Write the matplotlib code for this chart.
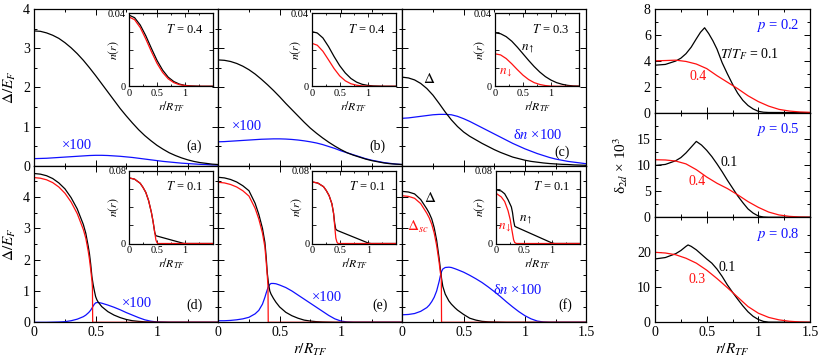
import numpy as np
import matplotlib
matplotlib.use('Agg')
import matplotlib.pyplot as plt
from matplotlib.ticker import MultipleLocator

plt.rcParams['font.family'] = ['Liberation Serif', 'DejaVu Serif']
plt.rcParams['mathtext.fontset'] = 'stix'
plt.rcParams['font.size'] = 9
plt.rcParams['axes.linewidth'] = 0.9

BLUE = '#1010ff'
RED = '#ff1010'

# ---------------- data ----------------
r_top = [0, .05, .1, .15, .2, .25, .3, .35, .4, .45, .5, .55, .6, .65, .7, .75,
         .8, .85, .9, .95, 1.0, 1.05, 1.1, 1.15, 1.2, 1.25, 1.3, 1.35, 1.4, 1.45, 1.5]

a_delta = [3.44, 3.43, 3.39, 3.33, 3.25, 3.14, 3.01, 2.86, 2.69, 2.50, 2.30, 2.09, 1.88, 1.67,
           1.46, 1.27, 1.09, 0.92, 0.77, 0.64, 0.52, 0.42, 0.33, 0.26, 0.20, 0.15, 0.11, 0.08,
           0.06, 0.04, 0.03]
a_dn = [0.18, 0.185, 0.19, 0.20, 0.21, 0.22, 0.23, 0.24, 0.25, 0.26, 0.265, 0.265, 0.26, 0.25,
        0.24, 0.225, 0.21, 0.19, 0.17, 0.15, 0.13, 0.11, 0.095, 0.08, 0.065, 0.055, 0.045,
        0.035, 0.03, 0.02, 0.015]

b_delta = [2.70, 2.69, 2.66, 2.61, 2.54, 2.45, 2.34, 2.21, 2.07, 1.92, 1.76, 1.59, 1.43, 1.27,
           1.11, 0.96, 0.83, 0.71, 0.60, 0.50, 0.41, 0.33, 0.27, 0.22, 0.17, 0.13, 0.10, 0.07,
           0.05, 0.04, 0.03]
b_dn = [0.61, 0.615, 0.625, 0.635, 0.645, 0.655, 0.665, 0.675, 0.68, 0.685, 0.685, 0.68, 0.67,
        0.655, 0.635, 0.61, 0.58, 0.54, 0.49, 0.44, 0.38, 0.33, 0.28, 0.23, 0.18, 0.14, 0.11,
        0.08, 0.06, 0.04, 0.03]

c_delta = [2.26, 2.24, 2.19, 2.10, 1.97, 1.80, 1.59, 1.37, 1.17, 1.00, 0.86, 0.75, 0.66, 0.57,
           0.49, 0.41, 0.34, 0.28, 0.22, 0.18, 0.14, 0.11, 0.09, 0.07, 0.055, 0.045, 0.035,
           0.03, 0.02, 0.015, 0.01]
c_dn = [1.21, 1.22, 1.24, 1.26, 1.28, 1.30, 1.31, 1.31, 1.30, 1.26, 1.20, 1.13, 1.05, 0.97,
        0.89, 0.81, 0.73, 0.65, 0.57, 0.50, 0.43, 0.37, 0.31, 0.26, 0.21, 0.17, 0.14, 0.11,
        0.09, 0.07, 0.05]

r_in = [0, .1, .2, .3, .4, .5, .6, .7, .8, .9, 1.0, 1.1, 1.2, 1.3, 1.4, 1.5]
a_nup = [0.039, 0.0376, 0.0336, 0.0277, 0.0208, 0.0142, 0.0089, 0.005, 0.0026, 0.0012,
         0.0005, 0.0002, 0.0001, 0, 0, 0]
a_ndn = [0.038, 0.0365, 0.0322, 0.0259, 0.019, 0.0126, 0.0076, 0.0041, 0.002, 0.0009,
         0.0004, 0.0001, 0, 0, 0, 0]
b_nup = [0.030, 0.0292, 0.0265, 0.0218, 0.0163, 0.0113, 0.0073, 0.0043, 0.0023, 0.0011,
         0.0005, 0.0002, 0.0001, 0, 0, 0]
b_ndn = [0.0236, 0.0225, 0.0192, 0.0145, 0.0097, 0.0057, 0.003, 0.0014, 0.0006, 0.0002,
         0.0001, 0, 0, 0, 0, 0]
c_nup = [0.0293, 0.0288, 0.0272, 0.0247, 0.0214, 0.0178, 0.0142, 0.0108, 0.0078, 0.0053,
         0.0034, 0.002, 0.0011, 0.0005, 0.0002, 0.0001]
c_ndn = [0.0178, 0.0172, 0.0152, 0.0123, 0.0091, 0.0061, 0.0037, 0.002, 0.001, 0.0004,
         0.0001, 0, 0, 0, 0, 0]

# panel (d), T = 0.1
d_r = [0, .05, .1, .15, .2, .25, .3, .35, .4, .42, .44, .45, .46, .47, .48, .49, .5, .51, .52,
       .55, .6, .65, .7, .75, .8, .85, .9, .95, 1.0, 1.1, 1.5]
d_delta = [4.75, 4.73, 4.68, 4.59, 4.45, 4.26, 3.98, 3.62, 3.12, 2.84, 2.42, 2.18, 1.85,
           1.45, 1.2, 1.0, 0.82, 0.72, 0.65, 0.5, 0.34, 0.23, 0.15, 0.09, 0.05, 0.03, 0.015,
           0.008, 0.004, 0, 0]
d_dn = [0, 0, 0, 0.005, 0.01, 0.02, 0.05, 0.1, 0.18, 0.23, 0.3, 0.34, 0.39, 0.45, 0.52, 0.58,
        0.62, 0.63, 0.635, 0.61, 0.55, 0.48, 0.4, 0.31, 0.23, 0.15, 0.08, 0.035, 0.01, 0, 0]
d_r_sc = [0, .05, .1, .15, .2, .25, .3, .35, .4, .42, .44, .45, .46, .47, .474, .476, 1.5]
d_sc = [4.62, 4.60, 4.55, 4.46, 4.32, 4.12, 3.84, 3.47, 2.96, 2.68, 2.26, 2.0, 1.68, 1.32,
        1.1, 0, 0]

# panel (e)
e_r = [0, .05, .1, .15, .2, .25, .3, .33, .36, .38, .39, .4, .41, .42, .43, .45, .47, .5, .55,
       .6, .65, .7, .75, .8, .85, .9, .95, 1.0, 1.05, 1.1, 1.5]
e_delta = [4.63, 4.61, 4.56, 4.48, 4.36, 4.2, 3.8, 3.45, 3.0, 2.55, 2.1, 1.55, 1.22, 1.0,
           0.9, 0.76, 0.64, 0.49, 0.32, 0.21, 0.13, 0.07, 0.04, 0.02, 0.01, 0.005, 0, 0, 0,
           0, 0]
e_dn = [0.05, 0.05, 0.06, 0.08, 0.11, 0.16, 0.27, 0.38, 0.58, 0.8, 0.93, 1.05, 1.15, 1.21,
        1.24, 1.24, 1.23, 1.19, 1.11, 1.0, 0.87, 0.74, 0.61, 0.48, 0.35, 0.22, 0.11, 0.04,
        0.01, 0, 0]
e_r_sc = [0, .05, .1, .15, .2, .25, .3, .33, .36, .38, .39, .4, .405, .407, 1.5]
e_sc = [4.47, 4.45, 4.40, 4.32, 4.2, 4.03, 3.64, 3.3, 2.85, 2.4, 1.95, 1.45, 1.15, 0, 0]

# panel (f)
f_r = [0, .05, .1, .15, .2, .22, .24, .26, .28, .3, .31, .32, .33, .35, .38, .4, .43, .45, .5,
       .55, .6, .65, .7, .75, .8, .85, .9, .95, 1.0, 1.05, 1.1, 1.15, 1.2, 1.5]
f_delta = [4.18, 4.16, 4.1, 3.92, 3.62, 3.48, 3.3, 3.02, 2.62, 2.05, 1.72, 1.4, 1.15, 0.9,
           0.68, 0.58, 0.46, 0.39, 0.25, 0.13, 0.07, 0.03, 0.015, 0.008, 0.004, 0, 0, 0, 0,
           0, 0, 0, 0, 0]
f_dn = [0.24, 0.25, 0.28, 0.35, 0.47, 0.55, 0.66, 0.8, 1.0, 1.3, 1.48, 1.62, 1.7, 1.75, 1.76,
        1.75, 1.71, 1.68, 1.6, 1.5, 1.39, 1.27, 1.13, 0.98, 0.82, 0.65, 0.49, 0.34, 0.21, 0.11,
        0.04, 0.01, 0, 0]
f_r_sc = [0, .05, .1, .15, .2, .22, .24, .26, .28, .3, .31, .318, .32, 1.5]
f_sc = [4.04, 4.02, 3.96, 3.79, 3.48, 3.33, 3.13, 2.85, 2.45, 1.92, 1.6, 1.4, 0, 0]

# bottom-row insets
d_in_r = [0, .1, .2, .25, .3, .35, .4, .43, .46, .48, .97, 1.0, 1.5]
d_in_up = [0.0719, 0.0705, 0.066, 0.0615, 0.056, 0.047, 0.034, 0.024, 0.012, 0.0085,
           0.0002, 0, 0]
d_in_r_dn = [0, .1, .2, .25, .3, .35, .4, .43, .46, .48, .5, .52, 1.5]
d_in_dn = [0.0719, 0.0705, 0.066, 0.0615, 0.056, 0.047, 0.034, 0.024, 0.012, 0.004, 0.0008,
           0, 0]

e_in_r = [0, .1, .2, .25, .3, .35, .38, .4, .42, .45, 1.0, 1.05, 1.5]
e_in_up = [0.0675, 0.0662, 0.0623, 0.058, 0.0525, 0.0435, 0.033, 0.022, 0.0155, 0.0142,
           0.0005, 0, 0]
e_in_r_dn = [0, .1, .2, .25, .3, .35, .38, .4, .42, .44, .46, 1.5]
e_in_dn = [0.0675, 0.0662, 0.0623, 0.058, 0.0525, 0.0435, 0.033, 0.019, 0.006, 0.0015, 0, 0]

f_in_r = [0, .1, .16, .22, .28, .3, .32, .34, .36, 1.0, 1.05, 1.5]
f_in_up = [0.059, 0.0575, 0.0545, 0.048, 0.04, 0.034, 0.025, 0.019, 0.0182, 0.0007, 0, 0]
f_in_r_dn = [0, .1, .16, .22, .26, .28, .3, .32, .34, .37, 1.5]
f_in_dn = [0.0553, 0.051, 0.046, 0.036, 0.026, 0.018, 0.011, 0.004, 0.001, 0, 0]

# right column: delta_2d x 10^3
p02_r = [0, .1, .2, .25, .3, .35, .4, .44, .48, .52, .56, .6, .65, .7, .75, .8, .85, .9, .95,
         1.0, 1.05, 1.1, 1.5]
p02_T01 = [3.66, 3.72, 3.98, 4.2, 4.55, 5.05, 5.7, 6.2, 6.55, 6.1, 5.55, 4.9, 3.85, 3.0, 2.2,
           1.5, 0.95, 0.55, 0.28, 0.1, 0.03, 0.01, 0]
p02_T04 = [4.0, 4.02, 4.05, 3.95, 3.75, 3.4, 2.85, 2.35, 1.85, 1.3, 0.85, 0.5, 0.25, 0.12,
           0.05, 0.02]

p05_r = [0, .1, .2, .25, .3, .35, .4, .45, .5, .55, .6, .65, .7, .75, .8, .85, .9, .95, 1.0,
         1.05, 1.1, 1.5]
p05_T01 = [9.9, 10.1, 10.8, 11.4, 12.3, 13.4, 14.5, 13.8, 12.8, 11.6, 10.2, 8.7, 7.1, 5.6,
           4.1, 2.8, 1.6, 0.8, 0.25, 0.05, 0, 0]
p05_T04 = [11.0, 10.95, 10.75, 10.2, 9.1, 7.7, 6.5, 5.5, 4.3, 3.0, 1.9, 1.0, 0.45, 0.18,
           0.06, 0.02]

p08_r = [0, .1, .2, .25, .3, .32, .35, .4, .45, .5, .55, .6, .65, .7, .75, .8, .85, .9, .95,
         1.0, 1.05, 1.1, 1.5]
p08_T01 = [18.1, 18.5, 19.6, 20.5, 21.7, 22.1, 21.7, 20.7, 19.4, 18.1, 16.9, 15.2, 13.1, 10.7,
           8.6, 6.6, 4.7, 3.0, 1.7, 0.8, 0.25, 0.05, 0]
p08_T03 = [20.0, 19.8, 19.3, 18.3, 16.9, 14.9, 12.5, 9.9, 7.2, 4.5, 2.6, 1.4, 0.7, 0.3, 0.1,
           0.03]

# ---------------- figure ----------------
W, H = 821, 360
fig = plt.figure(figsize=(W / 100, H / 100), dpi=100)


def box(x0, y0, x1, y1):
    return [x0 / W, 1 - y1 / H, (x1 - x0) / W, (y1 - y0) / H]


def style(ax, ylim, ymaj, ymin, xlab=None, ylab=None):
    ax.xaxis.set_major_locator(MultipleLocator(0.5))
    ax.xaxis.set_minor_locator(MultipleLocator(0.25))
    ax.yaxis.set_major_locator(MultipleLocator(ymaj))
    ax.yaxis.set_minor_locator(MultipleLocator(ymin))
    ax.tick_params(which='both', direction='in', top=True, right=True, width=0.7,
                   labelsize=10, pad=3)
    ax.tick_params(which='major', length=4)
    ax.tick_params(which='minor', length=2)
    if xlab is None:
        ax.set_xticklabels([])
    else:
        ax.set_xticks([0, 0.5, 1, 1.5])
        ax.set_xticklabels(xlab)
    if ylab is None:
        ax.set_yticklabels([])
    else:
        ax.set_yticks(ylab[0])
        ax.set_yticklabels(ylab[1])
    ax.set_xlim(0, 1.5)
    ax.set_ylim(*ylim)


def inset(px0, py0, r_up, n_up, r_dn, n_dn, label, ymax):
    ax = fig.add_axes(box(px0, py0, px0 + 84, py0 + 73))
    ax.plot(r_up, n_up, color='k', lw=0.9)
    ax.plot(r_dn, n_dn, color=RED, lw=0.9)
    ax.set_xlim(0, 1.5)
    ax.set_ylim(0, ymax)
    ax.set_xticks([0, 0.5, 1])
    ax.set_xticklabels(['0', '0.5', '1'])
    ax.xaxis.set_minor_locator(MultipleLocator(0.25))
    ax.set_yticks(np.linspace(0, ymax, 5))
    ax.set_yticklabels(['0', '', '', '', '%g' % ymax])
    ax.tick_params(which='both', direction='in', top=True, right=True, width=0.6,
                   labelsize=7.5, pad=2)
    ax.tick_params(which='major', length=3)
    ax.tick_params(which='minor', length=1.5)
    ax.set_xlabel(r'$r/R_{TF}$', fontsize=8.5, labelpad=1)
    ax.set_ylabel(r'$n(r)$', fontsize=8.5)
    ax.yaxis.set_label_coords(-0.1, 0.5)
    ax.text(0.66, 0.78, label, transform=ax.transAxes, fontsize=9, ha='center',
            va='center')
    return ax


cols = [34.3, 218.3, 402.3]
pw = 184
top_row = (9, 165.7)
bot_row = (165.7, 322.3)

# top row
top_data = [(a_delta, a_dn), (b_delta, b_dn), (c_delta, c_dn)]
for i, (dl, dn) in enumerate(top_data):
    ax = fig.add_axes(box(cols[i], top_row[0], cols[i] + pw, top_row[1]))
    ax.plot(r_top, dn, color=BLUE, lw=0.9)
    ax.plot(r_top, dl, color='k', lw=0.9)
    ylab = ([0, 1, 2, 3, 4], ['0', '1', '2', '3', '4']) if i == 0 else None
    style(ax, (0, 4), 1, 0.5, ylab=ylab)
    if i == 0:
        ax.set_ylabel(r'$\Delta/E_F$', fontsize=11, labelpad=4)
    ly = 0.085 if i == 2 else 0.126
    ax.text(0.867, ly, '(%s)' % 'abc'[i], transform=ax.transAxes, fontsize=10,
            ha='center', va='center')
    if i == 0:
        ax.text(0.232, 0.132, '×100', color=BLUE, transform=ax.transAxes, fontsize=10.5,
                ha='center', va='center')
    elif i == 1:
        ax.text(0.156, 0.247, '×100', color=BLUE, transform=ax.transAxes, fontsize=10.5,
                ha='center', va='center')
    else:
        ax.text(0.147, 0.553, r'$\Delta$', transform=ax.transAxes, fontsize=11,
                ha='center', va='center')
        ax.text(0.735, 0.195, r'δ$n$ ×100', color=BLUE, transform=ax.transAxes,
                fontsize=10.5, ha='center', va='center')

inset(cols[0] + 94.7, 13.3, r_in, a_nup, r_in, a_ndn, r'$T$ = 0.4', 0.04)
inset(cols[1] + 93.4, 13.3, r_in, b_nup, r_in, b_ndn, r'$T$ = 0.4', 0.04)
ic = inset(cols[2] + 92.7, 13.3, r_in, c_nup, r_in, c_ndn, r'$T$ = 0.3', 0.04)
ic.text(0.39, 0.5, r'$n_\uparrow$', transform=ic.transAxes, fontsize=9.5, ha='center',
        va='center')
ic.text(0.13, 0.18, r'$n_\downarrow$', color=RED, transform=ic.transAxes, fontsize=9.5,
        ha='center', va='center')

# bottom row
bot_data = [(d_r, d_delta, d_dn, d_r_sc, d_sc), (e_r, e_delta, e_dn, e_r_sc, e_sc),
            (f_r, f_delta, f_dn, f_r_sc, f_sc)]
for i, (rr, dl, dn, rs, sc) in enumerate(bot_data):
    ax = fig.add_axes(box(cols[i], bot_row[0], cols[i] + pw, bot_row[1]))
    ax.plot(rr, dn, color=BLUE, lw=0.9)
    ax.plot(rr, dl, color='k', lw=0.9)
    ax.plot(rs, sc, color=RED, lw=0.9)
    ylab = ([0, 1, 2, 3, 4], ['0', '1', '2', '3', '4']) if i == 0 else None
    xlab = ['0', '0.5', '1', '1.5'] if i == 2 else ['0', '0.5', '1', '']
    style(ax, (0, 5), 1, 0.5, xlab=xlab, ylab=ylab)
    if i == 0:
        ax.set_ylabel(r'$\Delta/E_F$', fontsize=11, labelpad=4)
    lx = [0.873, 0.88, 0.886][i]
    ax.text(lx, 0.11, '(%s)' % 'def'[i], transform=ax.transAxes, fontsize=10,
            ha='center', va='center')
    if i == 0:
        ax.text(0.558, 0.123, '×100', color=BLUE, transform=ax.transAxes, fontsize=10.5,
                ha='center', va='center')
    elif i == 1:
        ax.text(0.59, 0.16, '×100', color=BLUE, transform=ax.transAxes, fontsize=10.5,
                ha='center', va='center')
    else:
        ax.text(0.152, 0.794, r'$\Delta$', transform=ax.transAxes, fontsize=11,
                ha='center', va='center')
        ax.text(0.087, 0.608, r'$\Delta_{sc}$', color=RED, transform=ax.transAxes,
                fontsize=11, ha='center', va='center')
        ax.text(0.625, 0.206, r'δ$n$ ×100', color=BLUE, transform=ax.transAxes,
                fontsize=10.5, ha='center', va='center')

inset(cols[0] + 94.7, 170.5, d_in_r, d_in_up, d_in_r_dn, d_in_dn, r'$T$ = 0.1', 0.08)
inset(cols[1] + 94.0, 170.5, e_in_r, e_in_up, e_in_r_dn, e_in_dn, r'$T$ = 0.1', 0.08)
iff = inset(cols[2] + 93.4, 170.5, f_in_r, f_in_up, f_in_r_dn, f_in_dn,
            r'$T$ = 0.1', 0.08)
iff.text(0.36, 0.32, r'$n_\uparrow$', transform=iff.transAxes, fontsize=9.5, ha='center',
         va='center')
iff.text(0.11, 0.21, r'$n_\downarrow$', color=RED, transform=iff.transAxes, fontsize=9.5,
         ha='center', va='center')

fig.text(310 / W, 1 - 350 / H, r'$r/R_{TF}$', fontsize=11, ha='center', va='center')

# right column
rx0, rx1 = 655, 810
rrows = [(9, 112.6), (112.6, 217.3), (217.3, 322.3)]
right_data = [
    (p02_r, p02_T01, p02_T04, (0, 8), 2, 1, [0, 2, 4, 6, 8], '0.2'),
    (p05_r, p05_T01, p05_T04, (0, 20), 5, 2.5, [0, 5, 10, 15], '0.5'),
    (p08_r, p08_T01, p08_T03, (0, 30), 10, 5, [0, 10, 20], '0.8'),
]
red_lab = ['0.4', '0.4', '0.3']
blk_lab = [r'$T/T_F$ = 0.1', '0.1', '0.1']
blk_pos = [(0.61, 0.56), (0.48, 0.52), (0.465, 0.52)]
red_pos = [(0.28, 0.35), (0.27, 0.34), (0.27, 0.41)]
for i, (rr, lo, hi, yl, ymaj, ymin, yt, pval) in enumerate(right_data):
    ax = fig.add_axes(box(rx0, rrows[i][0], rx1, rrows[i][1]))
    ax.plot(rr, lo, color='k', lw=0.9)
    ax.plot(r_in, hi, color=RED, lw=0.9)
    xlab = ['0', '0.5', '1', '1.5'] if i == 2 else None
    style(ax, yl, ymaj, ymin, xlab=xlab, ylab=(yt, [str(v) for v in yt]))
    ax.text(0.79, 0.84, r'$p$ = ' + pval, color=BLUE, transform=ax.transAxes,
            fontsize=10.5, ha='center', va='center')
    ax.text(blk_pos[i][0], blk_pos[i][1], blk_lab[i], transform=ax.transAxes,
            fontsize=10, ha='center', va='center')
    ax.text(red_pos[i][0], red_pos[i][1], red_lab[i], color=RED, transform=ax.transAxes,
            fontsize=10, ha='center', va='center')
    if i == 1:
        ax.set_ylabel(r'δ$_{2d}$ × 10$^3$', fontsize=11, labelpad=5)

fig.text(732 / W, 1 - 350 / H, r'$r/R_{TF}$', fontsize=11, ha='center', va='center')

fig.savefig('out.png', dpi=100)
